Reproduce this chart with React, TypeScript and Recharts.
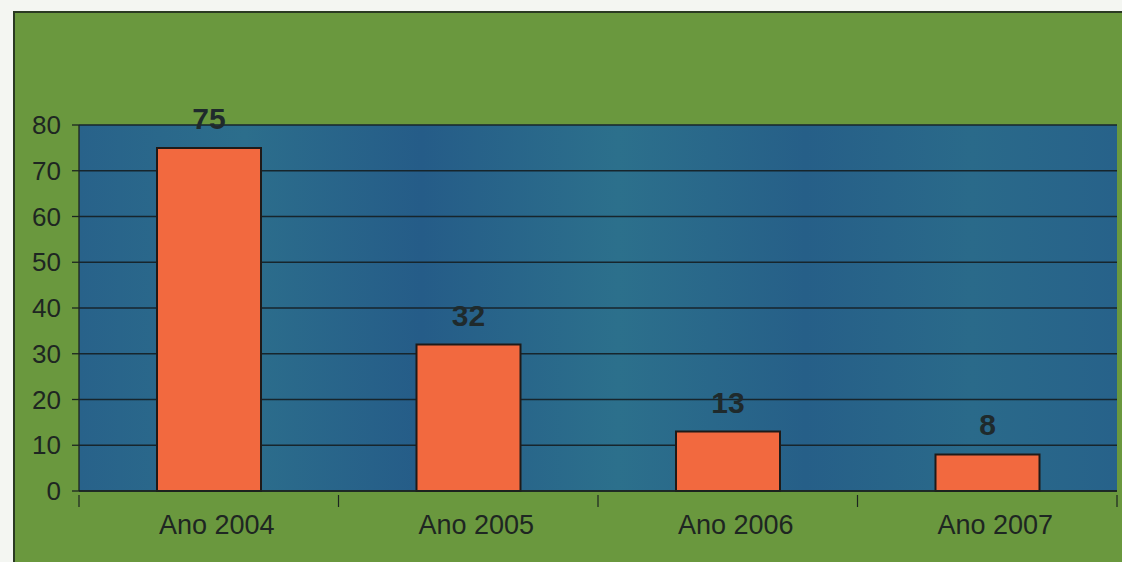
import React from "react";
import { BarChart, Bar, XAxis, YAxis, CartesianGrid, LabelList } from "recharts";

const categories = ["Ano 2004", "Ano 2005", "Ano 2006", "Ano 2007"];
const values = [75, 32, 13, 8];
const yTicks = [0, 10, 20, 30, 40, 50, 60, 70, 80];

const data = categories.map((name, i) => ({ name, value: values[i] }));

const W = 1122;
const H = 562;
const LEFT = 79;
const RIGHT = 5;
const TOP = 125;
const BOTTOM = 71;
const halfBand = (W - LEFT - RIGHT) / categories.length / 2;

const XTick = (props: any) => {
  const { x, y, payload, index } = props;
  return (
    <g>
      {index === 0 && (
        <line x1={x - halfBand} x2={x - halfBand} y1={y - 4} y2={y + 8} stroke="#1c2420" strokeWidth={1.2} />
      )}
      <line x1={x + halfBand} x2={x + halfBand} y1={y - 4} y2={y + 8} stroke="#1c2420" strokeWidth={1.2} />
      <text
        x={x + 8}
        y={y + 35}
        textAnchor="middle"
        fontFamily="Liberation Sans, Arial, sans-serif"
        fontSize={27}
        fill="#1e2622"
      >
        {payload.value}
      </text>
    </g>
  );
};

export default function App() {
  return (
    <div style={{ position: "absolute", left: 0, top: 0, width: W, height: H, background: "#f4f6f2", overflow: "hidden" }}>
      <div
        style={{
          position: "absolute",
          left: 13,
          top: 11,
          width: W,
          height: H,
          background: "#6a983e",
          borderTop: "2px solid #2a3a22",
          borderLeft: "2px solid #2a3a22",
        }}
      />
      <div style={{ position: "absolute", left: 0, top: 0 }}>
        <BarChart
          width={W}
          height={H}
          data={data}
          margin={{ top: TOP, right: RIGHT, bottom: 0, left: 0 }}
          barCategoryGap="30%"
        >
          <defs>
            <linearGradient id="plotBg" x1="0" y1="0" x2="1" y2="0">
              <stop offset="0%" stopColor="#28628a" />
              <stop offset="16%" stopColor="#2c6e8c" />
              <stop offset="33%" stopColor="#255c88" />
              <stop offset="52%" stopColor="#2c708c" />
              <stop offset="70%" stopColor="#265f88" />
              <stop offset="86%" stopColor="#2a6a8a" />
              <stop offset="100%" stopColor="#27628a" />
            </linearGradient>
          </defs>
          <CartesianGrid
            vertical={false}
            horizontal={true}
            fill="url(#plotBg)"
            fillOpacity={1}
            stroke="#17252c"
            strokeWidth={1.3}
          />
          <XAxis
            dataKey="name"
            height={BOTTOM}
            tickLine={false}
            axisLine={{ stroke: "#1c2420", strokeWidth: 1.5 }}
            tick={<XTick />}
            interval={0}
          />
          <YAxis
            width={LEFT}
            domain={[0, 80]}
            ticks={yTicks}
            interval={0}
            tickSize={7}
            tickMargin={11}
            tickLine={{ stroke: "#1c2420", strokeWidth: 1.3 }}
            axisLine={{ stroke: "#1c2420", strokeWidth: 1.3 }}
            tick={{ fontFamily: "Liberation Sans, Arial, sans-serif", fontSize: 26, fill: "#1e2622" }}
          />
          <Bar dataKey="value" fill="#f2693f" stroke="#1f1a18" strokeWidth={2} isAnimationActive={false} barSize={104}>
            <LabelList
              dataKey="value"
              position="top"
              offset={19}
              style={{ fontFamily: "Liberation Sans, Arial, sans-serif", fontSize: 30, fontWeight: "bold", fill: "#1f2a2c" }}
            />
          </Bar>
        </BarChart>
      </div>
    </div>
  );
}
